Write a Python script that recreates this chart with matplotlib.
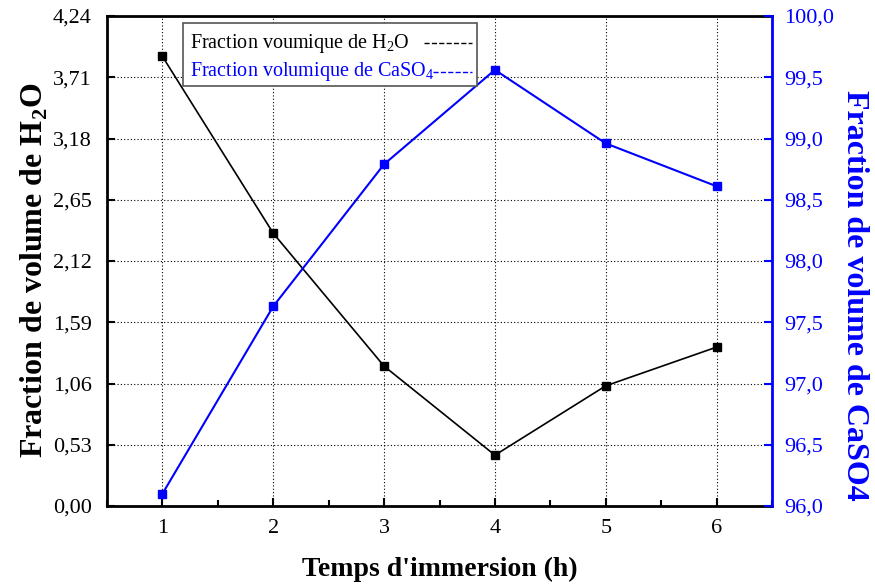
import numpy as np
import matplotlib
matplotlib.use("Agg")
import matplotlib.pyplot as plt
from matplotlib.patches import Rectangle
from matplotlib.ticker import FixedLocator, MultipleLocator, FuncFormatter

plt.rcParams['font.family'] = ['Liberation Serif', 'DejaVu Serif']
plt.rcParams['mathtext.fontset'] = 'custom'
plt.rcParams['mathtext.rm'] = 'Liberation Serif'
plt.rcParams['mathtext.bf'] = 'Liberation Serif:bold'

# Données
temps = [1, 2, 3, 4, 5, 6]
frac_h2o = [3.89, 2.36, 1.21, 0.44, 1.04, 1.375]
frac_caso4 = [96.10, 97.63, 98.79, 99.56, 98.96, 98.61]

ticks_gauche = [0.00, 0.53, 1.06, 1.59, 2.12, 2.65, 3.18, 3.71, 4.24]
ticks_droite = [96.0, 96.5, 97.0, 97.5, 98.0, 98.5, 99.0, 99.5, 100.0]

fig = plt.figure(figsize=(8.75, 5.86), dpi=100)
ax = fig.add_axes([0.1223, 0.1365, 0.76, 0.8362])
ax2 = ax.twinx()

ax.plot(temps, frac_h2o, color='black', marker='s', markersize=6, lw=1.2)
ax2.plot(temps, frac_caso4, color='blue', marker='s', markersize=6, lw=1.5)

ax.set_xlim(0.5, 6.5)
ax.set_ylim(0, 4.24)
ax2.set_ylim(96, 100)

ax.xaxis.set_major_locator(MultipleLocator(1))
ax.xaxis.set_minor_locator(MultipleLocator(0.5))
ax.yaxis.set_major_locator(FixedLocator(ticks_gauche))
ax2.yaxis.set_major_locator(FixedLocator(ticks_droite))

virgule2 = FuncFormatter(lambda v, p: f"{v:.2f}".replace('.', ','))
virgule1 = FuncFormatter(lambda v, p: f"{v:.1f}".replace('.', ','))
ax.yaxis.set_major_formatter(virgule2)
ax2.yaxis.set_major_formatter(virgule1)

ax.grid(True, which='major', color='black', linestyle=(0, (1, 2)), linewidth=0.8)

ax.tick_params(axis='both', which='major', direction='in', length=6, width=1.5, labelsize=16)
ax.tick_params(axis='y', pad=11)
ax.tick_params(axis='x', pad=9)
ax.tick_params(axis='x', which='minor', direction='in', length=4, width=1.5)
ax2.tick_params(axis='y', which='major', direction='in', length=6, width=1.5, labelsize=16,
                colors='blue', pad=9)

for s in ['left', 'bottom', 'top']:
    ax.spines[s].set_linewidth(2)
ax2.spines['right'].set_linewidth(2)
ax2.spines['right'].set_color('blue')
for s in ['left', 'bottom', 'top']:
    ax2.spines[s].set_visible(False)
ax.spines['right'].set_visible(False)

ax.set_xlabel("Temps d'immersion (h)", fontsize=20, fontweight='bold', labelpad=14)
ax.set_ylabel(r"Fraction de volume de H$_\mathbf{2}$O", fontsize=23, fontweight='bold', labelpad=2)
ax2.set_ylabel("Fraction de volume de CaSO4", fontsize=23, fontweight='bold', color='blue',
               rotation=270, labelpad=25)
ax.yaxis.label.set_y(0.482)
ax2.yaxis.label.set_y(0.43)

# Légende (texte à gauche, trait pointillé à droite)
ax2.add_patch(Rectangle((0.1143, 0.857), 0.4421, 0.1287, transform=ax2.transAxes,
                        facecolor='white', edgecolor='#555555', lw=1.2, zorder=5))
ax2.text(0.1248, 0.944, r"Fraction voumique de H$_2$O", transform=ax2.transAxes,
         fontsize=14.5, color='black', va='center', ha='left', zorder=6)
ax2.text(0.1248, 0.886, r"Fraction volumique de CaSO$_4$", transform=ax2.transAxes,
         fontsize=14.5, color='blue', va='center', ha='left', zorder=6)
ax2.plot([0.477, 0.549], [0.944, 0.944], transform=ax2.transAxes, color='black',
         ls='--', lw=1, zorder=6)
ax2.plot([0.490, 0.549], [0.886, 0.886], transform=ax2.transAxes, color='blue',
         ls='--', lw=1, zorder=6)

fig.savefig("out.png", dpi=100)
